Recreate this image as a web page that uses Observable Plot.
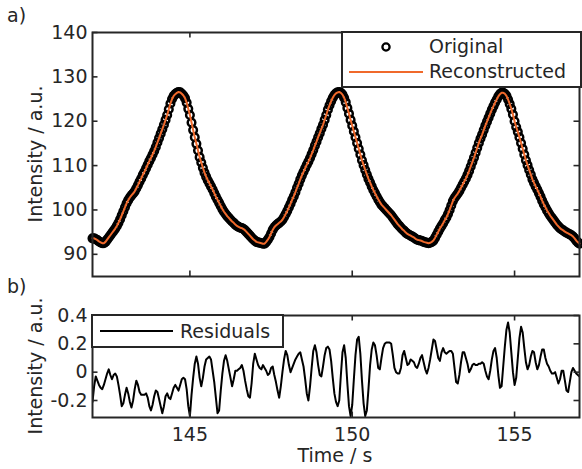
<!DOCTYPE html>
<html>
<head>
<meta charset="utf-8">
<script src="https://cdn.jsdelivr.net/npm/d3@7"></script>
<script src="https://cdn.jsdelivr.net/npm/@observablehq/plot@0.6"></script>
<style>
  html, body { margin: 0; padding: 0; background: #fff; }
  #chart { position: relative; width: 582px; height: 469px; overflow: hidden; font-family: "DejaVu Sans", sans-serif; color: #262626; }
  #chart svg { position: absolute; left: 0; }
  .lbl { position: absolute; font-size: 19px; line-height: 19px; white-space: nowrap; color: #262626; }
  .box { position: absolute; background: #fff; border: 2px solid #262626; box-sizing: border-box; }
  .sym { position: absolute; overflow: visible; }
</style>
</head>
<body>
<div id="chart"></div>
<script>
// ---- data (sampled every 0.05 s starting at 142 s) ----
const timeStart = 142;
const timeStep = 0.05;

const original = [
  93.6, 93.6, 93.4, 93.2, 92.9, 92.7, 92.5, 92.5, 92.8, 93.3, 93.8, 94.3, 94.8, 95.3, 95.8, 96.4, 97.1, 97.9, 98.8, 99.7,
  100.6, 101.5, 102.2, 102.8, 103.3, 103.7, 104.2, 104.9, 105.6, 106.4, 107.1, 107.9, 108.6, 109.4, 110.2, 111.0, 111.7, 112.5, 113.3, 114.2,
  115.2, 116.2, 117.2, 118.2, 119.2, 120.3, 121.4, 122.7, 124.0, 125.0, 125.7, 126.1, 126.4, 126.6, 126.5, 126.2, 125.8, 125.2, 124.2, 122.8,
  121.4, 119.7, 118.0, 116.4, 114.9, 113.4, 111.9, 110.7, 109.5, 108.4, 107.5, 106.7, 106.0, 105.3, 104.6, 103.8, 103.0, 102.3, 101.6, 100.9,
  100.2, 99.6, 99.1, 98.6, 98.2, 97.8, 97.4, 97.1, 96.7, 96.4, 96.2, 96.0, 95.9, 95.7, 95.4, 95.0, 94.6, 94.2, 93.8, 93.4,
  93.1, 92.8, 92.7, 92.6, 92.5, 92.4, 92.4, 92.8, 93.3, 93.9, 94.7, 95.5, 96.1, 96.5, 96.8, 97.1, 97.4, 97.8, 98.4, 99.1,
  99.8, 100.6, 101.4, 102.3, 103.1, 104.0, 105.0, 105.9, 106.9, 107.8, 108.6, 109.4, 110.2, 110.9, 111.7, 112.6, 113.5, 114.5, 115.4, 116.4,
  117.3, 118.3, 119.2, 120.3, 121.4, 122.6, 123.6, 124.5, 125.3, 125.9, 126.3, 126.5, 126.6, 126.4, 126.0, 125.3, 124.3, 123.0, 121.7, 120.3,
  119.0, 117.7, 116.4, 115.1, 113.8, 112.5, 111.2, 110.1, 109.0, 108.0, 107.0, 106.2, 105.3, 104.5, 103.8, 103.1, 102.4, 101.8, 101.2, 100.8,
  100.4, 100.0, 99.6, 99.2, 98.8, 98.3, 97.8, 97.3, 96.8, 96.4, 96.0, 95.6, 95.3, 94.9, 94.6, 94.4, 94.2, 94.0, 93.8, 93.5,
  93.3, 93.2, 93.1, 93.0, 92.8, 92.7, 92.6, 92.5, 92.6, 92.8, 93.1, 93.7, 94.4, 95.1, 95.8, 96.4, 97.0, 97.7, 98.3, 99.1,
  100.0, 101.0, 102.0, 102.7, 103.2, 103.7, 104.3, 105.0, 105.7, 106.4, 107.1, 107.9, 108.8, 109.8, 110.8, 111.8, 112.9, 114.0, 115.1, 116.1,
  117.0, 118.0, 119.0, 119.9, 120.8, 121.7, 122.6, 123.4, 124.2, 124.9, 125.6, 126.1, 126.4, 126.4, 126.2, 125.7, 124.9, 123.9, 122.8, 121.5,
  120.0, 118.7, 117.6, 116.4, 115.1, 113.8, 112.5, 111.2, 110.1, 109.0, 108.0, 106.9, 106.1, 105.3, 104.6, 103.8, 103.0, 102.1, 101.3, 100.6,
  99.9, 99.3, 98.7, 98.2, 97.7, 97.2, 96.7, 96.3, 95.9, 95.6, 95.4, 95.1, 94.9, 94.7, 94.5, 94.3, 94.0, 93.6, 93.1, 92.7,
  92.4
];

// the reconstruction overlays the original samples in the picture
const reconstructed = original.slice();

const residuals = [
  -0.21, -0.10, -0.03, -0.06, -0.09, -0.11, -0.12, -0.09, -0.05, -0.01, 0.02, -0.02, -0.05, -0.02, -0.01, -0.03, -0.09, -0.16, -0.24, -0.22,
  -0.16, -0.11, -0.15, -0.21, -0.25, -0.20, -0.12, -0.06, -0.09, -0.14, -0.16, -0.16, -0.16, -0.15, -0.18, -0.24, -0.27, -0.23, -0.17, -0.13,
  -0.14, -0.19, -0.24, -0.29, -0.24, -0.17, -0.15, -0.18, -0.19, -0.15, -0.11, -0.09, -0.11, -0.13, -0.09, -0.05, -0.04, -0.05, -0.12, -0.24,
  -0.31, -0.16, -0.04, 0.06, 0.11, 0.06, -0.04, -0.10, -0.04, 0.04, 0.09, 0.10, 0.11, 0.09, 0.01, -0.07, -0.18, -0.29, -0.27, -0.13,
  -0.01, 0.08, 0.12, 0.08, 0.02, -0.04, -0.10, -0.05, 0.01, 0.01, 0.02, 0.03, 0.05, 0.01, -0.06, -0.12, -0.17, -0.18, -0.08, 0.06,
  0.13, 0.09, 0.05, 0.03, 0.02, 0.05, 0.03, 0.01, -0.02, -0.01, 0.03, 0.04, -0.02, -0.07, -0.13, -0.18, -0.10, 0.00, 0.09, 0.15,
  0.12, 0.05, 0.00, 0.03, 0.06, 0.09, 0.11, 0.13, 0.14, 0.09, 0.04, -0.05, -0.15, -0.20, -0.10, 0.03, 0.15, 0.19, 0.14, 0.05,
  -0.02, -0.03, 0.04, 0.12, 0.17, 0.18, 0.16, 0.08, -0.04, -0.15, -0.21, -0.24, -0.20, -0.02, 0.14, 0.19, 0.10, -0.08, -0.24, -0.31,
  -0.23, -0.05, 0.12, 0.23, 0.25, 0.13, -0.06, -0.22, -0.31, -0.27, -0.12, 0.05, 0.16, 0.21, 0.19, 0.12, 0.03, 0.02, 0.10, 0.17,
  0.20, 0.21, 0.21, 0.21, 0.20, 0.12, 0.03, 0.00, -0.01, -0.01, 0.03, 0.12, 0.15, 0.10, 0.05, 0.06, 0.09, 0.08, 0.07, 0.04,
  0.03, 0.06, 0.10, 0.12, 0.07, 0.02, -0.01, 0.03, 0.09, 0.16, 0.23, 0.22, 0.16, 0.10, 0.08, 0.14, 0.17, 0.14, 0.13, 0.14,
  0.15, 0.15, 0.13, 0.03, -0.07, -0.08, -0.02, 0.07, 0.14, 0.14, 0.10, 0.06, 0.00, 0.02, 0.05, 0.06, 0.05, 0.05, 0.06, 0.06,
  0.07, 0.06, 0.01, -0.03, -0.05, 0.01, 0.09, 0.15, 0.17, 0.10, -0.02, -0.11, -0.10, 0.04, 0.18, 0.30, 0.35, 0.28, 0.14, 0.00,
  -0.09, -0.04, 0.10, 0.24, 0.32, 0.28, 0.17, 0.07, 0.02, 0.05, 0.11, 0.15, 0.14, 0.07, 0.02, 0.05, 0.11, 0.16, 0.16, 0.10,
  0.06, 0.04, 0.01, -0.01, -0.01, 0.00, -0.04, -0.08, -0.05, 0.01, 0.01, -0.06, -0.13, -0.14, -0.07, 0.00, 0.03, 0.01, -0.01, -0.02,
  -0.03
];

const xDomain = [142, 157];
const xTicks = [145, 150, 155];
const yDomainTop = [85, 140];
const yTicksTop = [90, 100, 110, 120, 130, 140];
const yDomainBottom = [-0.32, 0.4];
const yTicksBottom = [-0.2, 0, 0.2, 0.4];
const seriesNames = ["Original", "Reconstructed", "Residuals"];
const panelTags = ["a)", "b)"];
const yTitle = "Intensity / a.u.";
const xTitle = "Time / s";

// ---- build tables ----
const timeOf = i => Math.round((timeStart + i * timeStep) * 100) / 100;
const origTable = original.map((v, i) => ({t: timeOf(i), v}));
const recTable = reconstructed.map((v, i) => ({t: timeOf(i), v}));
const resTable = residuals.map((v, i) => ({t: timeOf(i), v}));

const AX = "#262626";
const ORANGE = "#F0692B";
const W = 582;
const ML = 92, MR = 3;
const plotW = W - ML - MR;
const TICK = 5.5;
const DOT_R = 3.8, DOT_SW = 2.5;
const font = {fontFamily: "'DejaVu Sans', sans-serif", fontSize: "19px", color: AX, background: "transparent", overflow: "visible"};

function inwardTicks(yTicks, plotH) {
  return [
    Plot.tickY(yTicks, {y: d => d, insetRight: plotW - TICK, stroke: AX, strokeWidth: 1.6}),
    Plot.tickY(yTicks, {y: d => d, insetLeft: plotW - TICK, stroke: AX, strokeWidth: 1.6}),
    Plot.tickX(xTicks, {x: d => d, insetTop: plotH - TICK, stroke: AX, strokeWidth: 1.6}),
    Plot.tickX(xTicks, {x: d => d, insetBottom: plotH - TICK, stroke: AX, strokeWidth: 1.6})
  ];
}

// ---- top panel ----
const topH = 280, topMT = 32, topMB = 4;
const topPlot = Plot.plot({
  width: W, height: topH,
  marginLeft: ML, marginRight: MR, marginTop: topMT, marginBottom: topMB,
  style: font,
  x: {domain: xDomain, axis: null},
  y: {domain: yDomainTop},
  marks: [
    Plot.dot(origTable, {x: "t", y: "v", r: DOT_R, stroke: "#000", strokeWidth: DOT_SW, fill: "none"}),
    Plot.line(recTable, {x: "t", y: "v", stroke: ORANGE, strokeWidth: 2}),
    Plot.axisY(yTicksTop, {tickSize: 0, tickPadding: 5, label: null}),
    ...inwardTicks(yTicksTop, topH - topMT - topMB),
    Plot.frame({stroke: AX, strokeWidth: 2})
  ]
});
topPlot.style.top = "0px";

// ---- bottom panel ----
const botTop = 280, botH = 189, botMT = 35, botMB = 52;
const botPlot = Plot.plot({
  width: W, height: botH,
  marginLeft: ML, marginRight: MR, marginTop: botMT, marginBottom: botMB,
  style: font,
  x: {domain: xDomain},
  y: {domain: yDomainBottom},
  marks: [
    Plot.line(resTable, {x: "t", y: "v", stroke: "#000", strokeWidth: 2, clip: true}),
    Plot.axisY(yTicksBottom, {tickSize: 0, tickPadding: 5, label: null,
      tickFormat: d => d === 0 ? "0" : (d < 0 ? "-" : "") + Math.abs(d).toFixed(1)}),
    Plot.axisX(xTicks, {tickSize: 0, tickPadding: 10, label: null}),
    ...inwardTicks(yTicksBottom, botH - botMT - botMB),
    Plot.frame({stroke: AX, strokeWidth: 2})
  ]
});
botPlot.style.top = botTop + "px";

const chart = document.getElementById("chart");
chart.append(topPlot, botPlot);

// ---- text labels and legends ----
function addLabel(text, left, top, transform) {
  const d = document.createElement("div");
  d.className = "lbl";
  d.textContent = text;
  d.style.left = left + "px";
  d.style.top = top + "px";
  if (transform) d.style.transform = transform;
  chart.append(d);
  return d;
}
function addBox(left, top, width, height) {
  const d = document.createElement("div");
  d.className = "box";
  Object.assign(d.style, {left: left + "px", top: top + "px", width: width + "px", height: height + "px"});
  chart.append(d);
}
function addSym(html, left, top, w, h) {
  const ns = "http://www.w3.org/2000/svg";
  const s = document.createElementNS(ns, "svg");
  s.setAttribute("class", "sym");
  s.setAttribute("width", w); s.setAttribute("height", h);
  s.style.left = left + "px"; s.style.top = top + "px";
  s.innerHTML = html;
  chart.append(s);
}

addLabel(panelTags[0], 7, 6);
addLabel(panelTags[1], 7, 277);
addLabel(yTitle, 34.5, 154, "translate(-50%,-50%) rotate(-90deg)");
addLabel(yTitle, 34.5, 366, "translate(-50%,-50%) rotate(-90deg)");
addLabel(xTitle, 335, 446, "translate(-50%,0)");

// top legend
addBox(341, 31, 241, 57);
addSym(`<circle cx="6" cy="6" r="3.6" fill="none" stroke="#000" stroke-width="2.3"/>`, 380, 41, 12, 12);
addSym(`<line x1="0" y1="2" x2="74" y2="2" stroke="${ORANGE}" stroke-width="2"/>`, 349, 70, 74, 4);
addLabel(seriesNames[0], 429, 37.4);
addLabel(seriesNames[1], 429, 62.4);

// bottom legend
addBox(91, 314, 193, 34);
addSym(`<line x1="0" y1="2" x2="73" y2="2" stroke="#000" stroke-width="2"/>`, 100, 329, 73, 4);
addLabel(seriesNames[2], 180, 322);
</script>
</body>
</html>
